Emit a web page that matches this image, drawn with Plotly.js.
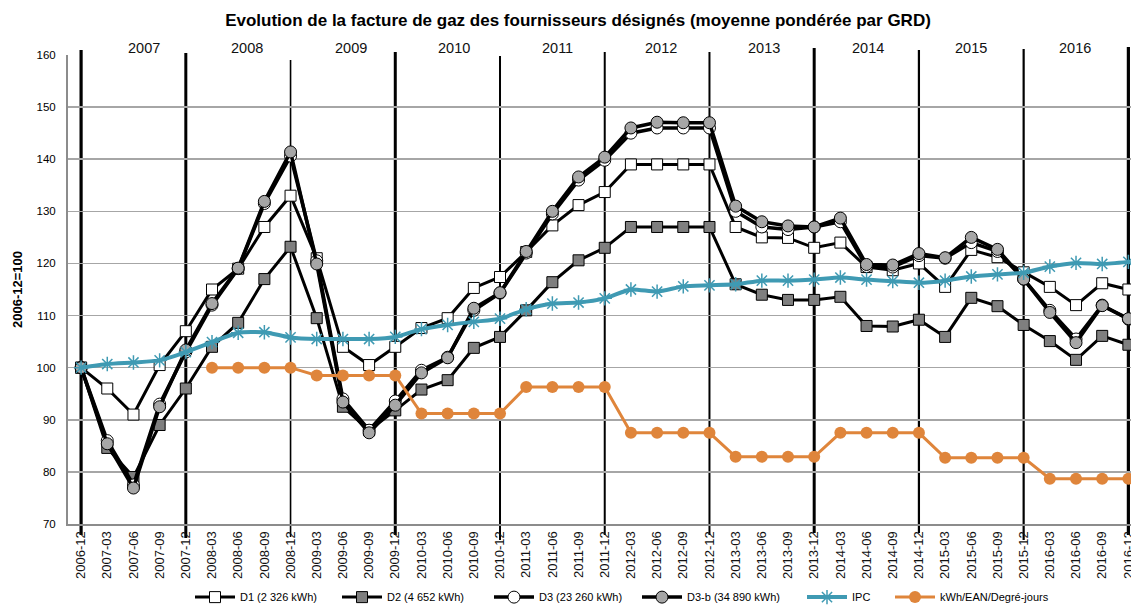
<!DOCTYPE html>
<html>
<head>
<meta charset="utf-8">
<script src="https://cdn.plot.ly/plotly-3.0.1.min.js"></script>
<style>html,body{margin:0;padding:0;overflow:hidden;background:#fff}#chart{width:1131px;height:605px}</style>
</head>
<body>
<div id="chart"></div>
<script>
const categories = ["2006-12","2007-03","2007-06","2007-09","2007-12","2008-03","2008-06","2008-09","2008-12","2009-03","2009-06","2009-09","2009-12","2010-03","2010-06","2010-09","2010-12","2011-03","2011-06","2011-09","2011-12","2012-03","2012-06","2012-09","2012-12","2013-03","2013-06","2013-09","2013-12","2014-03","2014-06","2014-09","2014-12","2015-03","2015-06","2015-09","2015-12","2016-03","2016-06","2016-09","2016-12"];

const d1 = [100,96,91,100.5,107,115,119,127,133,121,104,100.5,104,107.6,109.5,115.3,117.4,122.2,127.3,131.2,133.7,139,139,139,139,127,125,124.9,123,124,119.3,118.7,120,115.5,122.6,121.2,118.3,115.5,112,116.2,115];
const d2 = [100,84.6,79,89,96,104,108.6,117,123.2,109.5,92.5,88,91.8,95.8,97.6,103.8,105.9,111,116.4,120.6,123,127,127,127,127,116,114,113,113,113.6,108,107.9,109.2,105.9,113.4,111.8,108.2,105.1,101.5,106.1,104.4];
const d3 = [100,86,77.5,93,103,112,119,131.5,140.6,120.5,94,88,93.6,99.5,102,111,114.3,122,129.5,136,139.8,145,146,146,146,130,127,126.5,127,128,119.4,119.3,121.5,121,124,122.3,117,111,105.5,112,109.3];
const d3b = [100,85.4,76.9,92.5,103.4,112.3,119.1,131.9,141.4,119.9,93.4,87.5,92.8,99,101.9,111.4,114.4,122.3,130,136.6,140.4,146,147.1,147,147,131,128,127.2,127,128.7,119.8,119.7,121.9,121.1,125,122.7,117,110.6,104.8,111.9,109.4];
const ipc = [100,100.7,101,101.4,103,104.9,106.7,106.8,105.8,105.5,105.5,105.5,105.9,107.4,108.2,108.8,109.4,111.2,112.3,112.5,113.3,115,114.6,115.6,115.8,116,116.7,116.7,116.9,117.3,116.9,116.6,116.3,116.7,117.5,117.9,118.2,119.4,120.1,119.9,120.3];
const kwh = [null,null,null,null,null,100,100,100,100,98.5,98.5,98.5,98.5,91.2,91.2,91.2,91.2,96.3,96.3,96.3,96.3,87.5,87.5,87.5,87.5,82.9,82.9,82.9,82.9,87.5,87.5,87.5,87.5,82.7,82.7,82.7,82.7,78.7,78.7,78.7,78.7];

const seriesNames = ["D1 (2 326 kWh)","D2 (4 652 kWh)","D3 (23 260 kWh)","D3-b (34 890 kWh)","IPC","kWh/EAN/Degré-jours"];
const yearLabels = ["2007","2008","2009","2010","2011","2012","2013","2014","2015","2016"];
const yearLineCats = ["2006-12","2007-12","2008-12","2009-12","2010-12","2011-12","2012-12","2013-12","2014-12","2015-12","2016-12"];
const titleText = "Evolution de la facture de gaz des fournisseurs désignés (moyenne pondérée par GRD)";
const yTitleText = "2006-12=100";

// styling / placement (not data)
const yearLineWidths = [3.2,3,1.6,3,2,2,2,3,2.2,2.2,3.2];
const yearLineTops = [50,53,60,52,56,52,52,48,50,49,47];
const yearLineBottoms = [535,538,537,535,540,535,535,533,533,540,535];
const legendSymbolStarts = [195,342,494,642,807,895];

const W = 1131, H = 605;
const plotTop = 55, plotBottom = 524, plotH = plotBottom - plotTop;
const py = v => (plotBottom - v) / plotH;
const FONT = 'Liberation Sans, Arial, sans-serif';

const teal = '#3F9AB3', orange = '#DF853B';
const legendIds = ['legend','legend2','legend3','legend4','legend5','legend6'];

const styles = [
  {line: {color: '#000', width: 3}, marker: {symbol: 'square', size: 11, color: '#fff', line: {color: '#000', width: 1}}},
  {line: {color: '#000', width: 3}, marker: {symbol: 'square', size: 11, color: '#7F7F7F', line: {color: '#000', width: 1}}},
  {line: {color: '#000', width: 3.5}, marker: {symbol: 'circle', size: 12, color: '#fff', line: {color: '#000', width: 1}}},
  {line: {color: '#000', width: 3.5}, marker: {symbol: 'circle', size: 12, color: '#A6A6A6', line: {color: '#000', width: 1}}},
  {line: {color: teal, width: 4, shape: 'spline', smoothing: 0.6}, marker: {symbol: 'asterisk-open', size: 12, color: teal, line: {color: teal, width: 1.5}}},
  {line: {color: orange, width: 3}, marker: {symbol: 'circle', size: 12, color: orange}}
];
const seriesData = [d1, d2, d3, d3b, ipc, kwh];

const traces = seriesData.map((ys, i) => Object.assign({
  x: categories, y: ys, name: seriesNames[i], type: 'scatter', mode: 'lines+markers',
  legend: legendIds[i]
}, styles[i]));

const shapes = yearLineCats.map((c, i) => ({
  type: 'line', xref: 'x', yref: 'paper', x0: c, x1: c,
  y0: py(yearLineBottoms[i]), y1: py(yearLineTops[i]),
  line: {color: '#000', width: yearLineWidths[i]}, layer: 'below'
}));

const annotations = yearLabels.map((t, k) => ({
  text: t, xref: 'x', yref: 'paper', x: 2.4 + 3.95 * k, y: py(47.5),
  showarrow: false, xanchor: 'center', yanchor: 'middle',
  font: {family: FONT, size: 14.5, color: '#111'}
}));

const layout = {
  width: W, height: H,
  margin: {l: 68, r: 0, t: plotTop, b: H - plotBottom, pad: 0},
  paper_bgcolor: '#fff', plot_bgcolor: 'rgba(0,0,0,0)',
  font: {family: FONT, color: '#000'},
  title: {text: '<b>' + titleText + '</b>', x: 578 / W, xanchor: 'center', xref: 'container', y: 1 - 20 / H, yanchor: 'middle',
          font: {size: 17, family: FONT, color: '#000'}},
  xaxis: {type: 'category', range: [-0.5, 40.1], showgrid: false, zeroline: false,
          showline: true, linecolor: '#8C8C8C', linewidth: 2, ticks: '', tickangle: -90,
          tickfont: {size: 13, color: '#111'}, automargin: false, fixedrange: true},
  yaxis: {range: [70, 160], dtick: 10, showgrid: true, gridcolor: '#A6A6A6', gridwidth: 1.5,
          zeroline: false, showline: true, linecolor: '#8C8C8C', linewidth: 2, ticks: '',
          ticklabelstandoff: 8,
          tickfont: {size: 11.5, color: '#000'}, automargin: false,
          title: {text: '<b>' + yTitleText + '</b>', font: {size: 13, color: '#000'}, standoff: 11}},
  showlegend: true,
  shapes: shapes,
  annotations: annotations
};

legendIds.forEach((id, i) => {
  layout[id] = {orientation: 'h', x: (legendSymbolStarts[i] - 5) / W, xref: 'container', xanchor: 'left',
                y: 0.037, yref: 'container', yanchor: 'top',
                font: {size: 11, color: '#000', family: FONT}, bgcolor: 'rgba(0,0,0,0)', itemwidth: 40};
});

Plotly.newPlot('chart', traces, layout, {displayModeBar: false, staticPlot: true});
</script>
</body>
</html>
